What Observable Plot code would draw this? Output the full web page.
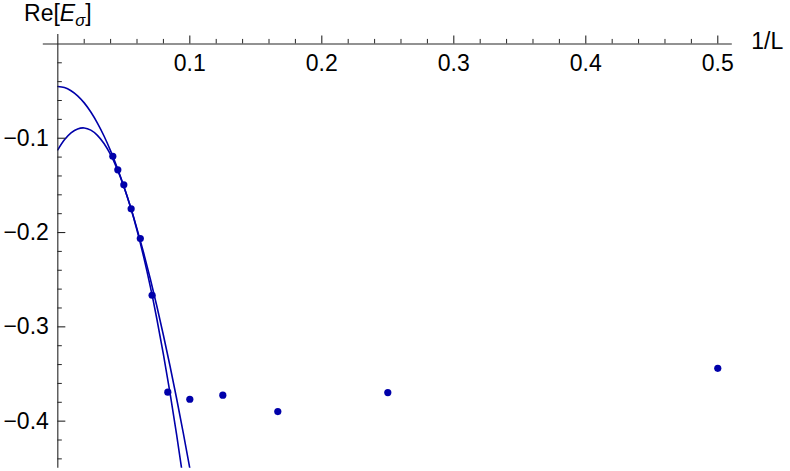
<!DOCTYPE html>
<html>
<head>
<meta charset="utf-8">
<script src="https://cdn.jsdelivr.net/npm/d3@7"></script>
<script src="https://cdn.jsdelivr.net/npm/@observablehq/plot@0.6"></script>
<style>
  html, body { margin: 0; padding: 0; background: #fff; }
  svg { display: block; }
</style>
</head>
<body>
<div id="chart"></div>
<script>
// Data: system sizes L and Re[E_sigma]
const L = [24, 22, 20, 18, 16, 14, 12, 10, 8, 6, 4, 2];
const reE = [-0.1191, -0.1335, -0.1494, -0.1749, -0.2064, -0.2665, -0.3693, -0.3768, -0.3725, -0.3898, -0.3697, -0.3440];

// Two extrapolation curves
const fitX = [0, 0.005, 0.01, 0.015, 0.02, 0.025, 0.03, 0.035, 0.04, 0.045, 0.05, 0.055, 0.06, 0.065, 0.07, 0.075, 0.08, 0.085, 0.09, 0.095, 0.1, 0.105];
const fitA = [-0.0452, -0.0463, -0.0496, -0.0550, -0.0625, -0.0722, -0.0839, -0.0976, -0.1134, -0.1312, -0.1509, -0.1725, -0.1961, -0.2215, -0.2488, -0.2779, -0.3089, -0.3415, -0.3760, -0.4121, -0.4500, -0.4895];
const fitB = [-0.1123, -0.1017, -0.0943, -0.0901, -0.0891, -0.0914, -0.0969, -0.1056, -0.1175, -0.1327, -0.1511, -0.1727, -0.1975, -0.2256, -0.2569, -0.2914, -0.3291, -0.3701, -0.4143, -0.4617, -0.5123, -0.5600];

// Ticks
const xMajor = [0.1, 0.2, 0.3, 0.4, 0.5];
const xMinor = [0.02, 0.04, 0.06, 0.08, 0.12, 0.14, 0.16, 0.18, 0.22, 0.24, 0.26, 0.28, 0.32, 0.34, 0.36, 0.38, 0.42, 0.44, 0.46, 0.48];
const yMajor = [-0.1, -0.2, -0.3, -0.4];
const yMinor = [-0.02, -0.04, -0.06, -0.08, -0.12, -0.14, -0.16, -0.18, -0.22, -0.24, -0.26, -0.28, -0.32, -0.34, -0.36, -0.38, -0.42, -0.44];
const xLabels = ["0.1", "0.2", "0.3", "0.4", "0.5"];
const yLabels = ["\u22120.1", "\u22120.2", "\u22120.3", "\u22120.4"];
const xTitle = "1/L";
const yTitle = "Re[E\u03c3]";

const xDomain = [-0.011, 0.511];
const yDomain = [-0.45, 0.01];

const points = L.map((l, i) => ({x: 1 / l, y: reE[i]}));
const curveA = fitX.map((x, i) => ({x, y: fitA[i]}));
const curveB = fitX.map((x, i) => ({x, y: fitB[i]}));

const blue = "#0000aa";
const axisColor = "#262626";
const font = "'Liberation Sans', Arial, sans-serif";
const fs = 23;

const chart = Plot.plot({
  width: 790,
  height: 471,
  marginLeft: 42.8,
  marginRight: 58.2,
  marginTop: 34,
  marginBottom: 3.2,
  style: {background: "#fff", fontFamily: font, overflow: "visible"},
  x: {domain: xDomain, axis: null},
  y: {domain: yDomain, axis: null},
  marks: [
    // curves
    Plot.line(curveA, {x: "x", y: "y", stroke: blue, strokeWidth: 1.6, curve: "catmull-rom", clip: true}),
    Plot.line(curveB, {x: "x", y: "y", stroke: blue, strokeWidth: 1.6, curve: "catmull-rom", clip: true}),
    // axes
    Plot.ruleY([0], {x1: xDomain[0], x2: xDomain[1], stroke: axisColor, strokeWidth: 1.1}),
    Plot.ruleX([0], {y1: yDomain[0], y2: yDomain[1], stroke: axisColor, strokeWidth: 1.1}),
    // x ticks (pointing up)
    Plot.ruleX(xMajor, {x: d => d, y1: 0, y2: 0, insetBottom: 8, stroke: axisColor, strokeWidth: 1.1}),
    Plot.ruleX(xMinor, {x: d => d, y1: 0, y2: 0, insetBottom: 4.5, stroke: axisColor, strokeWidth: 1}),
    // y ticks (pointing right)
    Plot.ruleY(yMajor, {y: d => d, x1: 0, x2: 0, insetRight: -8, stroke: axisColor, strokeWidth: 1.1}),
    Plot.ruleY(yMinor, {y: d => d, x1: 0, x2: 0, insetRight: -4.5, stroke: axisColor, strokeWidth: 1}),
    // tick labels
    Plot.text(xMajor, {x: d => d, y: 0, dy: 20, text: (d, i) => xLabels[i], fontSize: fs, fill: "#000"}),
    Plot.text(yMajor, {x: 0, y: d => d, dx: -9, textAnchor: "end", text: (d, i) => yLabels[i], fontSize: fs, fill: "#000"}),
    // axis titles
    Plot.text([xTitle], {x: xDomain[1], y: 0, dx: 19, dy: -2, textAnchor: "start", text: d => d, fontSize: fs, fill: "#000"}),
    Plot.text([yTitle], {x: 0, y: yDomain[1], dy: -21, text: d => d, fontSize: fs, fill: "#000"}),
    // points
    Plot.dot(points, {x: "x", y: "y", r: 3.6, fill: blue, stroke: "none"})
  ]
});

document.getElementById("chart").appendChild(chart);

// Rich formatting of the y title: Re[ E(italic) σ(italic subscript) ]
d3.select(chart).selectAll("text").each(function() {
  const t = d3.select(this);
  if (t.text() === yTitle) {
    t.text(null);
    t.append("tspan").text("Re[");
    t.append("tspan").attr("font-style", "italic").text("E");
    t.append("tspan").attr("font-style", "italic").attr("font-size", "0.72em").attr("dy", "0.28em").text("\u03c3");
    t.append("tspan").attr("dy", "-0.2em").text("]");
  }
});
</script>
</body>
</html>
